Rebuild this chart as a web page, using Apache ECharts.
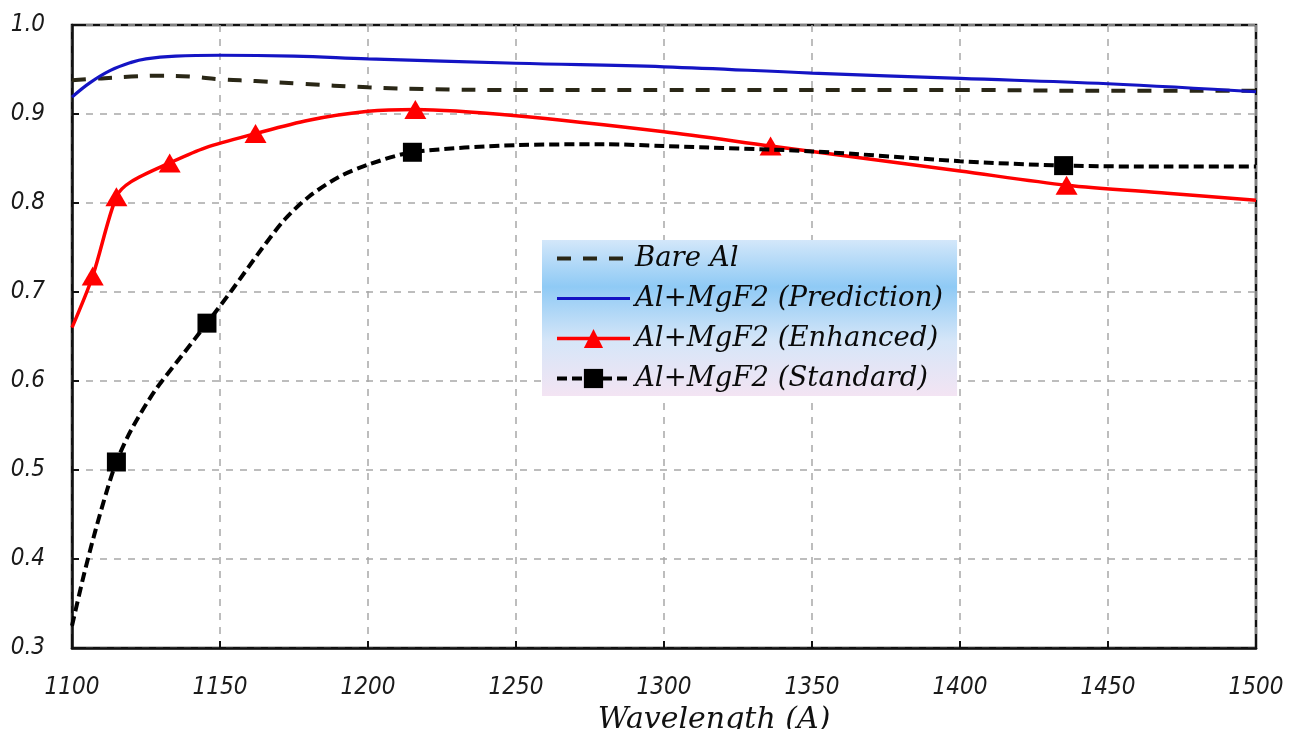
<!DOCTYPE html>
<html>
<head>
<meta charset="utf-8">
<title>Reflectance vs Wavelength</title>
<script src="https://cdn.jsdelivr.net/npm/echarts@6/dist/echarts.min.js"></script>
<style>
  html, body { margin: 0; padding: 0; background: #fff; }
  #chart { width: 1289px; height: 729px; }
</style>
</head>
<body>
<div id="chart"></div>
<script>
// Wavelength ticks (Å) and reflectance ticks
const xTicks = [1100, 1150, 1200, 1250, 1300, 1350, 1400, 1450, 1500];
const yTicks = [0.3, 0.4, 0.5, 0.6, 0.7, 0.8, 0.9, 1.0];

const seriesNames = ['Bare Al', 'Al+MgF2 (Prediction)', 'Al+MgF2 (Enhanced)', 'Al+MgF2 (Standard)'];

// Bare Al reflectance curve
const bareWl = [1100, 1110, 1120, 1130, 1140, 1150, 1162, 1177, 1200, 1220, 1250, 1300, 1350, 1400, 1450, 1500];
const bareR  = [0.938, 0.940, 0.942, 0.943, 0.942, 0.939, 0.937, 0.934, 0.930, 0.928, 0.927, 0.927, 0.927, 0.927, 0.926, 0.926];

// Al+MgF2 predicted reflectance
const predWl = [1100, 1106, 1113, 1120, 1125, 1135, 1150, 1175, 1200, 1250, 1300, 1350, 1400, 1450, 1500];
const predR  = [0.919, 0.935, 0.949, 0.958, 0.962, 0.965, 0.966, 0.965, 0.962, 0.957, 0.953, 0.946, 0.940, 0.934, 0.925];

// Al+MgF2 enhanced: fitted curve and measured points
const enhWl = [1100, 1120, 1145, 1180, 1200, 1250, 1300, 1400, 1470, 1500];
const enhR  = [0.660, 0.824, 0.862, 0.893, 0.903, 0.898, 0.880, 0.836, 0.811, 0.803];
const enhMarkWl = [1107, 1115, 1133, 1162, 1216, 1336, 1436];
const enhMarkR  = [0.718, 0.807, 0.845, 0.878, 0.905, 0.864, 0.820];

// Al+MgF2 standard: fitted curve and measured points
const stdWl = [1100, 1104, 1108, 1112, 1120, 1128, 1137, 1154, 1164, 1172, 1180, 1190, 1200, 1250, 1280, 1300, 1350, 1400, 1470, 1500];
const stdR  = [0.325, 0.382, 0.433, 0.479, 0.545, 0.589, 0.628, 0.702, 0.748, 0.782, 0.807, 0.829, 0.843, 0.865, 0.866, 0.864, 0.858, 0.847, 0.841, 0.841];
const stdMarkWl = [1115, 1145.6, 1215, 1435];
const stdMarkR  = [0.509, 0.665, 0.857, 0.842];

// Merge a curve with its measured points; only the measured points show a symbol
function buildData(wl, r, markWl, markR) {
  const pts = wl.map((x, i) => ({ value: [x, r[i]], symbol: 'none' }));
  (markWl || []).forEach((x, i) => pts.push({ value: [x, markR[i]] }));
  pts.sort((a, b) => a.value[0] - b.value[0]);
  return pts;
}

const chart = echarts.init(document.getElementById('chart'), null, { renderer: 'canvas' });

const tickFont = {
  fontFamily: '"DejaVu Sans Condensed", "DejaVu Sans", sans-serif',
  fontStyle: 'italic',
  fontSize: 24,
  color: '#1a1a1a'
};

// Plain line samples in the legend for the series without markers
const noMarker = { color: 'rgba(0,0,0,0)', opacity: 0, borderWidth: 0 };

const option = {
  backgroundColor: '#ffffff',
  animation: false,
  grid: {
    left: 72, right: 33, top: 25, bottom: 81,
    outerBoundsMode: 'none',
    show: true,
    borderColor: '#111',
    borderWidth: 2.5,
    backgroundColor: 'transparent'
  },
  legend: {
    orient: 'vertical',
    left: 542,
    top: 240,
    padding: [5, 14, 4, 13],
    itemWidth: 73,
    itemHeight: 24,
    itemGap: 13,
    lineStyle: { width: 'inherit' },
    backgroundColor: new echarts.graphic.LinearGradient(0, 0, 0, 1, [
      { offset: 0, color: '#d3e7fa' },
      { offset: 0.3, color: '#8fcaf5' },
      { offset: 0.65, color: '#d6e6f8' },
      { offset: 1, color: '#f3e4f3' }
    ]),
    textStyle: {
      fontFamily: '"DejaVu Serif", "Liberation Serif", serif',
      fontStyle: 'italic',
      fontSize: 27.5,
      lineHeight: 24,
      color: '#0a0a0a'
    },
    data: [
      { name: seriesNames[0], itemStyle: noMarker },
      { name: seriesNames[1], itemStyle: noMarker },
      { name: seriesNames[2] },
      { name: seriesNames[3] }
    ]
  },
  xAxis: {
    type: 'value',
    min: 1100,
    max: 1500,
    interval: 50,
    name: 'Wavelength (A)',
    nameLocation: 'middle',
    nameGap: 48,
    nameTextStyle: {
      fontFamily: '"DejaVu Serif", "Liberation Serif", serif',
      fontStyle: 'italic',
      fontSize: 30,
      color: '#111',
      padding: [0, 0, 0, 100]
    },
    axisLine: { show: true, lineStyle: { color: '#111', width: 2.5 } },
    axisTick: { show: true, inside: true, length: 7, lineStyle: { color: '#111', width: 2 } },
    axisLabel: Object.assign({ margin: 28, formatter: v => xTicks.includes(v) ? String(v) : '' }, tickFont),
    splitLine: { show: true, lineStyle: { color: '#a8a8a8', width: 1.5, type: [7, 7] } }
  },
  yAxis: {
    type: 'value',
    min: 0.3,
    max: 1.0,
    interval: 0.1,
    axisLine: { show: true, lineStyle: { color: '#111', width: 2.5 } },
    axisTick: { show: true, inside: true, length: 7, lineStyle: { color: '#111', width: 2 } },
    axisLabel: Object.assign({
      margin: 27,
      formatter: v => {
        const t = yTicks.find(k => Math.abs(k - v) < 1e-6);
        return t === undefined ? '' : t.toFixed(1);
      }
    }, tickFont),
    splitLine: { show: true, lineStyle: { color: '#a8a8a8', width: 1.5, type: [7, 7] } }
  },
  series: [
    {
      name: seriesNames[0],
      type: 'line',
      smooth: 0.4,
      symbol: 'none',
      color: '#2a2716',
      lineStyle: { color: '#2a2716', width: 4, type: [14, 12] },
      data: buildData(bareWl, bareR),
      z: 3
    },
    {
      name: seriesNames[1],
      type: 'line',
      smooth: 0.4,
      symbol: 'none',
      color: '#1414c4',
      lineStyle: { color: '#1414c4', width: 3.2 },
      data: buildData(predWl, predR),
      z: 4
    },
    {
      name: seriesNames[2],
      type: 'line',
      smooth: 0.3,
      symbol: 'triangle',
      symbolSize: [22, 19],
      showSymbol: true,
      color: '#ff0000',
      itemStyle: { color: '#ff0000' },
      lineStyle: { color: '#ff0000', width: 3.5 },
      data: buildData(enhWl, enhR, enhMarkWl, enhMarkR),
      z: 5
    },
    {
      name: seriesNames[3],
      type: 'line',
      smooth: 0.3,
      symbol: 'rect',
      symbolSize: 19,
      showSymbol: true,
      color: '#000000',
      itemStyle: { color: '#000000' },
      lineStyle: { color: '#000000', width: 4, type: [10, 5] },
      data: buildData(stdWl, stdR, stdMarkWl, stdMarkR),
      z: 6
    }
  ]
};

chart.setOption(option);
</script>
</body>
</html>
